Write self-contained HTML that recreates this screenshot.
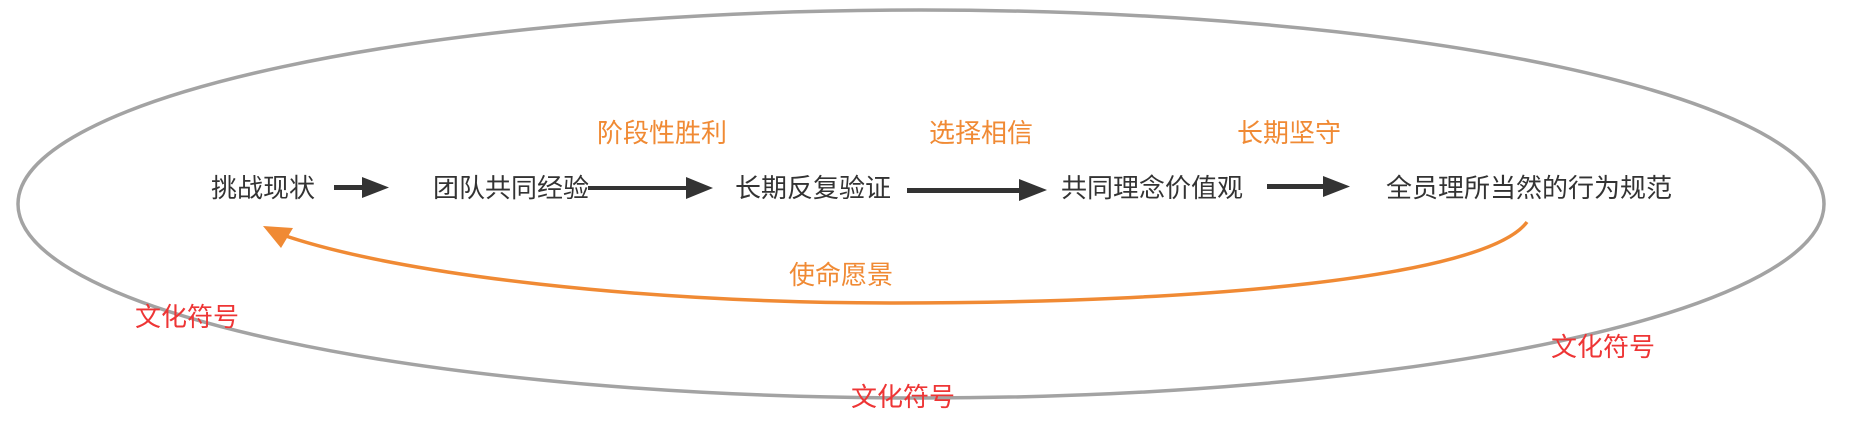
<!DOCTYPE html>
<html><head><meta charset="utf-8"><style>
html,body{margin:0;padding:0;background:#fff;}
body{width:1870px;height:432px;overflow:hidden;}
text{font-family:"Liberation Sans","Noto Sans CJK SC",sans-serif;}
</style></head><body>
<svg width="1870" height="432" viewBox="0 0 1870 432" xmlns="http://www.w3.org/2000/svg">
<ellipse cx="921" cy="204" rx="903" ry="194" fill="none" stroke="#a3a3a3" stroke-width="3.5"/>
<g fill="#333">
<rect x="334" y="185" width="30" height="5"/><path d="M362,177 L389,187.5 L362,198z"/>
<rect x="588" y="186" width="100" height="4"/><path d="M686,177 L713,188 L686,199z"/>
<rect x="907" y="188" width="114" height="5"/><path d="M1019,179 L1047,190 L1019,201z"/>
<rect x="1267" y="184" width="58" height="5"/><path d="M1323,176 L1350,186.5 L1323,197z"/>
</g>
<path d="M1527,222 C1485,278 1200,303 895,303 C650,303 400,276 280,234" fill="none" stroke="#f08a34" stroke-width="3.5"/>
<path d="M263,226 L293,228 L281,248z" fill="#f08a34"/>
<g font-size="26" fill="#333" dominant-baseline="central">
<text x="211" y="188">挑战现状</text>
<text x="433" y="188">团队共同经验</text>
<text x="735" y="188">长期反复验证</text>
<text x="1061" y="188">共同理念价值观</text>
<text x="1386" y="188">全员理所当然的行为规范</text>
</g>
<g font-size="26" fill="#f08a34" dominant-baseline="central">
<text x="597" y="133">阶段性胜利</text>
<text x="929" y="133">选择相信</text>
<text x="1237" y="133">长期坚守</text>
<text x="789" y="275">使命愿景</text>
</g>
<g font-size="26" fill="#ee3535" dominant-baseline="central">
<text x="135" y="317">文化符号</text>
<text x="851" y="397">文化符号</text>
<text x="1551" y="347">文化符号</text>
</g>
</svg>
</body></html>
